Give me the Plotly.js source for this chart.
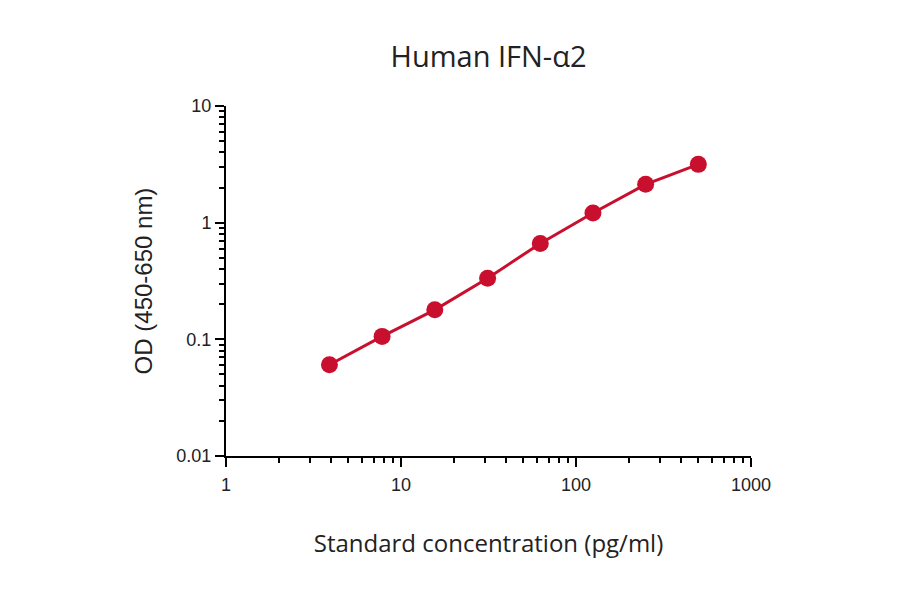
<!DOCTYPE html>
<html>
<head>
<meta charset="utf-8">
<script src="https://cdn.plot.ly/plotly-3.0.1.min.js"></script>
<style>html,body{margin:0;padding:0;background:#fff;}</style>
</head>
<body>
<div id="plot" style="width:900px;height:594px;"></div>
<script>
// standard curve, 2-fold dilutions
var conc = [3.9, 7.8, 15.6, 31.25, 62.5, 125, 250, 500];
var od = [0.0605, 0.106, 0.179, 0.334, 0.664, 1.21, 2.13, 3.16];

var xTickVals = [1, 10, 100, 1000];
var xTickText = ['1', '10', '100', '1000'];
var yTickVals = [0.01, 0.1, 1, 10];
var yTickText = ['0.01', '0.1', '1', '10'];

function minorVals(lo, hi) {
    var out = [];
    for (var d = lo; d < hi; d *= 10) {
        for (var k = 2; k <= 9; k++) out.push(d * k);
    }
    return out;
}

var red = '#c8102e';

var curve = {
    x: conc,
    y: od,
    mode: 'lines+markers',
    type: 'scatter',
    line: {color: red, width: 3},
    marker: {color: red, size: 17},
    cliponaxis: false,
    showlegend: false
};

var tickFont = {family: 'Liberation Sans, Arial, sans-serif', size: 18, color: '#222'};

var layout = {
    width: 900,
    height: 594,
    margin: {l: 226, r: 149, t: 106, b: 138},
    paper_bgcolor: '#fff',
    plot_bgcolor: '#fff',
    title: {
        text: 'Human IFN-α2',
        font: {family: 'Open Sans, sans-serif', size: 29, color: '#222'},
        xref: 'paper', x: 0.5, xanchor: 'center',
        y: 0.904, yanchor: 'middle'
    },
    xaxis: {
        type: 'log',
        range: [0, 3],
        showgrid: false,
        zeroline: false,
        showline: true,
        linecolor: '#000',
        linewidth: 2,
        ticks: 'outside',
        ticklen: 9,
        tickwidth: 2,
        tickcolor: '#000',
        tickvals: xTickVals,
        ticktext: xTickText,
        tickfont: tickFont,
        ticklabelstandoff: 2,
        minor: {tickvals: minorVals(1, 1000), ticks: 'outside', ticklen: 5, tickwidth: 2, tickcolor: '#000', showgrid: false},
        title: {text: 'Standard concentration (pg/ml)', font: {family: 'Open Sans, sans-serif', size: 24, color: '#222'}, standoff: 42}
    },
    yaxis: {
        type: 'log',
        range: [-2, 1],
        showgrid: false,
        zeroline: false,
        showline: true,
        linecolor: '#000',
        linewidth: 2,
        ticks: 'outside',
        ticklen: 9,
        tickwidth: 2,
        tickcolor: '#000',
        tickvals: yTickVals,
        ticktext: yTickText,
        tickfont: tickFont,
        minor: {tickvals: minorVals(0.01, 10), ticks: 'outside', ticklen: 5, tickwidth: 2, tickcolor: '#000', showgrid: false},
        title: {text: 'OD (450-650 nm)', font: {family: 'Liberation Sans, Arial, sans-serif', size: 24, color: '#222'}, standoff: 17}
    }
};

Plotly.newPlot('plot', [curve], layout, {displayModeBar: false, staticPlot: true});
</script>
</body>
</html>
